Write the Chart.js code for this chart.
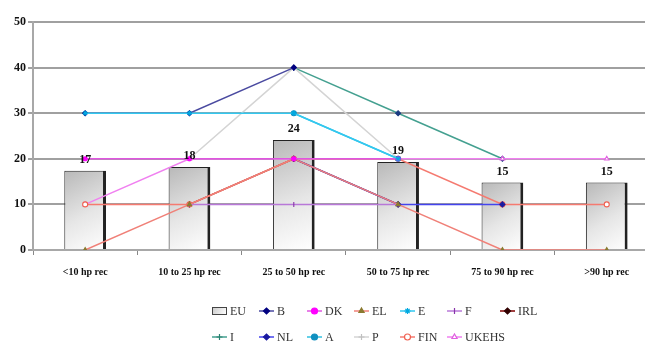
<!DOCTYPE html>
<html><head><meta charset="utf-8">
<script src="https://cdn.jsdelivr.net/npm/chart.js@4/dist/chart.umd.min.js"></script>
<style>html,body{margin:0;padding:0;background:#fff;overflow:hidden}#wrap{width:645px;height:345px;overflow:hidden;position:relative}</style>
</head><body><div id="wrap"><canvas id="c" width="664" height="345"></canvas></div>
<script>
const categories = ['<10 hp rec', '10 to 25 hp rec', '25 to 50 hp rec', '50 to 75 hp rec', '75 to 90 hp rec', '>90 hp rec'];
const yTicks = [0, 10, 20, 30, 40, 50];
const euValues = [17.4, 18.2, 24.1, 19.3, 14.8, 14.8];
const seriesB = [30, 30, 40, null, null, null];
const seriesDK = [20, 20, 20, 20, null, null];
const seriesEL = [0, 10, 20, 10, 0, 0];
const seriesE = [30, 30, 30, 20, null, null];
const seriesF = [null, 10, 10, 10, null, null];
const seriesIRL = [null, 10, 20, 10, null, null];
const seriesI = [null, null, 40, 30, 20, null];
const seriesNL = [null, null, 20, 10, 10, null];
const seriesA = [null, null, 30, 20, null, null];
const seriesP = [null, 20, 40, 20, null, null];
const seriesFIN = [10, 10, 20, 20, 10, 10];
const seriesUKEHS = [10, 20, 20, 20, 20, 20];

const lineSeries = [
  {label: 'B', data: seriesB, color: '#4a4aa0', marker: '#000080', style: 'rectRot', z: 1},
  {label: 'DK', data: seriesDK, color: '#e055e0', marker: '#ff00ff', style: 'circle', z: 0, r: 2},
  {label: 'EL', data: seriesEL, color: '#f08078', marker: '#8a7a30', style: 'triangle', z: 0},
  {label: 'E', data: seriesE, color: '#33c8f0', marker: '#00a8e0', style: 'star', z: -1},
  {label: 'F', data: seriesF, color: '#b878d8', marker: '#8833aa', style: 'line', rot: 90, z: 0},
  {label: 'IRL', data: seriesIRL, color: '#800000', marker: '#300000', style: 'rectRot', z: 1},
  {label: 'I', data: seriesI, color: '#44a090', marker: '#1a3a80', style: 'rectRot', legendMarker: '#2a8070', legendStyle: 'cross', z: 2},
  {label: 'NL', data: seriesNL, color: '#4444ee', marker: '#1a1aa0', style: 'rectRot', z: 0},
  {label: 'A', data: seriesA, color: '#30c0e0', marker: '#1090c0', style: 'circle', z: 0},
  {label: 'P', data: seriesP, color: '#d4d4d4', marker: '#c0c0c0', style: 'cross', z: 1},
  {label: 'FIN', data: seriesFIN, color: '#f57a70', marker: '#f06050', style: 'circle', open: true, z: 0},
  {label: 'UKEHS', data: seriesUKEHS, color: '#f080f0', marker: '#e060e0', style: 'triangle', open: true, z: 0}
];

const SERIF = '"Liberation Serif", "DejaVu Serif", serif';

function barGradient(ctx) {
  const chart = ctx.chart;
  if (!chart.chartArea || !chart.scales.x || ctx.dataIndex === undefined) return '#dcdcdc';
  const xs = chart.scales.x, ys = chart.scales.y;
  const cx = xs.getPixelForValue(ctx.dataIndex);
  const top = ys.getPixelForValue(ctx.raw);
  const bot = ys.getPixelForValue(0);
  const g = chart.ctx.createLinearGradient(cx - 21, top, cx + 21, bot);
  g.addColorStop(0, '#b8b8b8');
  g.addColorStop(0.55, '#e6e6e6');
  g.addColorStop(1, '#ffffff');
  return g;
}

const datasets = [{
  type: 'bar', label: 'EU', data: euValues, order: 10,
  backgroundColor: barGradient, borderColor: '#222',
  borderWidth: {left: 1, top: 1, right: 3, bottom: 0}, borderSkipped: false,
  barPercentage: 0.40, categoryPercentage: 1
}].concat(lineSeries.map(s => ({
  type: 'line', label: s.label, data: s.data, order: s.z,
  borderColor: s.color, borderWidth: 1.5, spanGaps: false, tension: 0,
  pointStyle: s.style, pointRotation: s.rot || 0, pointRadius: s.r || 2.5,
  pointBackgroundColor: s.open ? '#fff' : s.marker, pointBorderColor: s.marker, pointBorderWidth: 1.1,
  legendStyle: s.legendStyle || s.style, legendMarker: s.legendMarker || s.marker, legendOpen: !!s.open
})));

const barLabels = {
  id: 'barLabels',
  afterDatasetsDraw(chart) {
    const meta = chart.getDatasetMeta(0);
    const c = chart.ctx;
    c.save();
    c.font = 'bold 12px ' + SERIF;
    c.fillStyle = '#111';
    c.textAlign = 'center';
    c.textBaseline = 'bottom';
    meta.data.forEach((el, i) => {
      c.fillText(String(Math.round(euValues[i])), el.x, el.y - 5);
    });
    c.restore();
  }
};

const legendCols = [212, 259, 307, 354, 400, 447, 500];
const legendRows = [311, 337];
const gridLegend = {
  id: 'gridLegend',
  afterDraw(chart) {
    const c = chart.ctx;
    c.save();
    c.font = '12px ' + SERIF;
    c.textBaseline = 'middle';
    c.textAlign = 'left';
    chart.data.datasets.forEach((ds, i) => {
      const row = i < 7 ? 0 : 1;
      const col = i < 7 ? i : i - 7;
      const x = legendCols[col], y = legendRows[row];
      if (ds.type === 'bar') {
        const g = c.createLinearGradient(x, y - 4, x + 14, y + 4);
        g.addColorStop(0, '#c8c8c8'); g.addColorStop(1, '#fff');
        c.fillStyle = g;
        c.fillRect(x, y - 4, 14, 8);
        c.strokeStyle = '#444'; c.lineWidth = 1;
        c.strokeRect(x + 0.5, y - 3.5, 14, 7);
      } else {
        c.strokeStyle = ds.borderColor; c.lineWidth = 1.5;
        c.beginPath(); c.moveTo(x, y); c.lineTo(x + 15, y); c.stroke();
        c.fillStyle = ds.legendOpen ? '#fff' : ds.legendMarker; c.strokeStyle = ds.legendMarker; c.lineWidth = 1.2;
        Chart.helpers.drawPoint(c, {pointStyle: ds.legendStyle, radius: 3, rotation: ds.pointRotation, borderWidth: 1.2}, x + 7.5, y);
      }
      c.fillStyle = '#333';
      c.fillText(ds.label, x + 18, y + 1);
    });
    c.restore();
  }
};

new Chart(document.getElementById('c'), {
  data: {labels: categories, datasets},
  options: {
    responsive: false, animation: false, devicePixelRatio: 1,
    layout: {padding: {top: 22, right: 0, bottom: 60, left: 0}},
    plugins: {legend: {display: false}, tooltip: {enabled: false}},
    scales: {
      x: {
        offset: true,
        grid: {display: true, drawOnChartArea: false, offset: true, tickLength: 5, color: '#888', lineWidth: 1},
        border: {display: true, color: '#a8a8a8', width: 2},
        ticks: {font: {family: SERIF, size: 10, weight: 'bold'}, color: '#111', padding: 11, maxRotation: 0, autoSkip: false},
        afterFit(s) { s.height = 35; }
      },
      y: {
        min: 0, max: 50,
        afterBuildTicks(s) { s.ticks = yTicks.map(v => ({value: v})); },
        grid: {color: '#a0a0a0', lineWidth: 2, tickLength: 5},
        border: {display: true, color: '#a8a8a8', width: 2},
        ticks: {font: {family: SERIF, size: 12, weight: 'bold'}, color: '#111', padding: 2},
        afterFit(s) { s.width = 33; }
      }
    }
  },
  plugins: [barLabels, gridLegend]
});
</script>
</body></html>
